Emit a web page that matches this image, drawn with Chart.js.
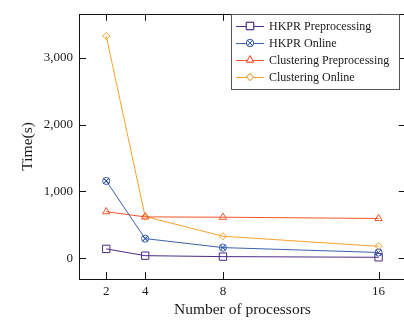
<!DOCTYPE html>
<html>
<head>
<meta charset="utf-8">
<script src="https://cdn.jsdelivr.net/npm/chart.js@4"></script>
<style>
html,body{margin:0;padding:0;background:#fff;overflow:hidden;}
#wrap{width:412px;height:322px;}
</style>
</head>
<body>
<div id="wrap"><canvas id="c" width="412" height="322"></canvas></div>
<script>
const categories = [2, 4, 8, 16];
const hkprPre = [141, 39, 25, 15];
const hkprOnline = [1158, 295, 160, 87];
const clusPre = [698, 620, 615, 596];
const clusOnline = [3328, 625, 330, 179];
const yTicks = [0, 1000, 2000, 3000];
const seriesNames = ['HKPR Preprocessing', 'HKPR Online', 'Clustering Preprocessing', 'Clustering Online'];
const xTitle = 'Number of processors';
const yTitle = 'Time(s)';

const SERIF = '"Liberation Serif", "DejaVu Serif", serif';
const colors = ['#4b2a88', '#3b62ad', '#f2552c', '#f9a02c'];
const styles = ['rect', 'circle', 'triangle', 'rectRot'];
const radii = [5.2, 3.6, 4.2, 3.6];
const series = [hkprPre, hkprOnline, clusPre, clusOnline];

const datasets = series.map((vals, i) => ({
  label: seriesNames[i],
  data: categories.map((c, j) => ({x: c, y: vals[j]})),
  borderColor: colors[i],
  backgroundColor: 'rgba(255,255,255,0)',
  pointBorderColor: colors[i],
  pointBackgroundColor: 'rgba(255,255,255,0)',
  pointStyle: styles[i],
  pointRadius: radii[i],
  pointBorderWidth: 1,
  borderWidth: 1,
  tension: 0
}));

const frame = {
  id: 'frame',
  afterDatasetsDraw(chart) {
    const ctx = chart.ctx;
    const meta = chart.getDatasetMeta(1);
    ctx.save();
    meta.data.forEach(pt => {
      Chart.helpers.drawPoint(ctx, {pointStyle: 'crossRot', radius: 3.6, borderWidth: 1}, pt.x, pt.y);
      ctx.strokeStyle = colors[1];
      ctx.lineWidth = 1;
      ctx.stroke();
    });
    ctx.restore();
  },
  afterDraw(chart) {
    const ctx = chart.ctx;
    const a = chart.chartArea;
    const xs = chart.scales.x, ys = chart.scales.y;
    ctx.save();
    ctx.strokeStyle = '#111';
    ctx.lineWidth = 1;
    ctx.strokeRect(Math.round(a.left) + 0.5, Math.round(a.top) + 0.5, Math.round(a.right - a.left), Math.round(a.bottom - a.top));
    const tl = 7;
    ctx.beginPath();
    categories.forEach(c => {
      const px = Math.round(xs.getPixelForValue(c)) + 0.5;
      ctx.moveTo(px, a.bottom); ctx.lineTo(px, a.bottom - tl);
      ctx.moveTo(px, a.top); ctx.lineTo(px, a.top + tl);
    });
    yTicks.forEach(v => {
      const py = Math.round(ys.getPixelForValue(v)) + 0.5;
      ctx.moveTo(a.left, py); ctx.lineTo(a.left + tl, py);
      ctx.moveTo(a.right, py); ctx.lineTo(a.right - tl, py);
    });
    ctx.stroke();

    const lx = 231, ly = 14, lw = 168, lh = 75;
    ctx.fillStyle = '#fff';
    ctx.fillRect(lx, ly, lw, lh);
    ctx.strokeStyle = '#555';
    ctx.strokeRect(lx + 0.5, ly + 0.5, lw, lh);
    ctx.font = '12px ' + SERIF;
    ctx.textBaseline = 'middle';
    ctx.textAlign = 'left';
    chart.data.datasets.forEach((ds, i) => {
      const y = 26 + i * 17;
      ctx.strokeStyle = colors[i];
      ctx.lineWidth = 1;
      ctx.beginPath();
      ctx.moveTo(236, y + 0.5); ctx.lineTo(264, y + 0.5);
      ctx.stroke();
      Chart.helpers.drawPoint(ctx, {pointStyle: styles[i], radius: radii[i], borderWidth: 1}, 250, y);
      ctx.fillStyle = '#fff';
      ctx.strokeStyle = colors[i];
      ctx.fill();
      ctx.stroke();
      if (i === 1) {
        Chart.helpers.drawPoint(ctx, {pointStyle: 'crossRot', radius: 3.6, borderWidth: 1}, 250, y);
        ctx.stroke();
      }
      ctx.fillStyle = '#1a1a1a';
      ctx.fillText(ds.label, 269, y + 1);
    });
    ctx.restore();
  }
};

new Chart(document.getElementById('c'), {
  type: 'line',
  data: {datasets},
  options: {
    responsive: false,
    animation: false,
    devicePixelRatio: 1,
    layout: {padding: {top: 6, right: 4, left: 0, bottom: 0}},
    plugins: {legend: {display: false}, tooltip: {enabled: false}},
    scales: {
      x: {
        type: 'linear',
        min: 0.6, max: 17.4,
        afterBuildTicks: s => { s.ticks = categories.map(v => ({value: v})); },
        afterFit: s => { s.height = 43; },
        grid: {display: false, drawTicks: false},
        border: {display: false},
        ticks: {padding: 5, color: '#1a1a1a', font: {family: SERIF, size: 13}, callback: v => String(v), maxRotation: 0, autoSkip: false},
        title: {display: true, text: xTitle, color: '#1a1a1a', font: {family: SERIF, size: 15.5}, padding: {top: 0, bottom: 3}}
      },
      y: {
        min: -310, max: 3660,
        afterBuildTicks: s => { s.ticks = yTicks.map(v => ({value: v})); },
        afterFit: s => { s.width = 79; },
        grid: {display: false, drawTicks: false},
        border: {display: false},
        ticks: {padding: 6, color: '#1a1a1a', font: {family: SERIF, size: 13}, callback: v => v.toLocaleString('en-US')},
        title: {display: true, text: yTitle, color: '#1a1a1a', font: {family: SERIF, size: 15.5}, padding: {top: 19, bottom: 0}}
      }
    }
  },
  plugins: [frame]
});
</script>
</body>
</html>
